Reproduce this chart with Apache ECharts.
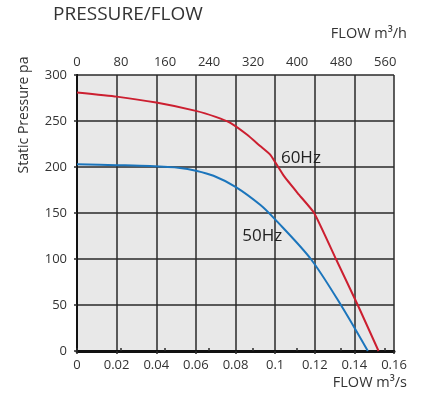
<!DOCTYPE html>
<html>
<head>
<meta charset="utf-8">
<script src="https://cdn.jsdelivr.net/npm/echarts@6/dist/echarts.min.js"></script>
<style>html,body{margin:0;padding:0;background:#fff}#c{width:424px;height:398px}</style>
</head>
<body>
<div id="c"></div>
<script>
// Data (flow in m3/s, pressure in pa)
const flow60 = [0, 0.02, 0.04, 0.06, 0.07, 0.0774, 0.0859, 0.0926, 0.0977, 0.1045, 0.112, 0.1197, 0.1307, 0.1417, 0.1522];
const pres60 = [281, 276.5, 270, 261, 254.5, 248, 235, 222.5, 213, 190, 170, 150, 100, 50, 0];
const flow50 = [0, 0.02, 0.0368, 0.052, 0.06, 0.0689, 0.08, 0.0926, 0.1, 0.118, 0.1332, 0.1468];
const pres50 = [203, 202, 201, 199, 196, 190.5, 178.5, 158.7, 143, 100, 50, 0];
const bottomTicks = [0, 0.02, 0.04, 0.06, 0.08, 0.1, 0.12, 0.14, 0.16];
const topTicks = [0, 80, 160, 240, 320, 400, 480, 560];
const yTicks = [0, 50, 100, 150, 200, 250, 300];
const seriesNames = ['60Hz', '50Hz'];
const labelPos60 = [0.113, 210];
const labelPos50 = [0.0935, 125];

const FONT = '"Open Sans", "Noto Sans", sans-serif';
const TXT = '#333';
const GRID = '#2a2a2a';

const chart = echarts.init(document.getElementById('c'), null, {renderer: 'canvas'});
chart.setOption({
  animation: false,
  backgroundColor: '#fff',
  textStyle: {fontFamily: FONT},
  grid: {left: 77, right: 30, top: 75, bottom: 47, show: true, backgroundColor: '#e8e8e8', borderWidth: 0,
         containLabel: false, outerBoundsMode: 'none'},
  graphic: [
    {type: 'text', left: 53, top: 5, style: {text: 'PRESSURE/FLOW', font: '19px ' + FONT, fill: TXT}},
    {type: 'text', right: 17, top: 26, style: {text: 'FLOW m³/h', font: '14.5px ' + FONT, fill: TXT}},
    {type: 'text', right: 17, top: 375, style: {text: 'FLOW m³/s', font: '14.5px ' + FONT, fill: TXT}},
    {type: 'text', x: 24, y: 115, rotation: Math.PI / 2,
      style: {text: 'Static Pressure pa', font: '14px ' + FONT, fill: TXT, align: 'center', verticalAlign: 'middle'}}
  ],
  xAxis: [
    {
      type: 'value', min: 0, max: 0.16, interval: 0.02, position: 'bottom',
      axisLine: {show: true, lineStyle: {color: '#111', width: 3}},
      axisTick: {show: true, length: 3, lineStyle: {color: GRID, width: 1.5}},
      axisLabel: {color: TXT, fontSize: 13, fontFamily: FONT, margin: 8,
        formatter: v => { const t = bottomTicks.find(b => Math.abs(b - v) < 1e-9); return t === undefined ? '' : String(t); }},
      splitLine: {show: true, lineStyle: {color: GRID, width: 1.5}}
    },
    {
      type: 'value', min: 0, max: 576, interval: 80, position: 'top',
      axisLine: {show: true, lineStyle: {color: '#111', width: 2}},
      axisTick: {show: true, length: 3, lineStyle: {color: GRID, width: 1.5}},
      axisLabel: {color: TXT, fontSize: 13, fontFamily: FONT, margin: 6, showMaxLabel: false,
        formatter: v => topTicks.indexOf(v) >= 0 ? String(v) : ''},
      splitLine: {show: false}
    }
  ],
  yAxis: [
    {
      type: 'value', min: 0, max: 300, interval: 50,
      axisLine: {show: true, lineStyle: {color: '#111', width: 2}},
      axisTick: {show: true, length: 3, lineStyle: {color: GRID, width: 1.5}},
      axisLabel: {color: TXT, fontSize: 13, fontFamily: FONT, margin: 10,
        formatter: v => yTicks.indexOf(v) >= 0 ? String(v) : ''},
      splitLine: {show: true, lineStyle: {color: GRID, width: 1.5}}
    },
    {
      type: 'value', min: 0, max: 300, interval: 50, position: 'right',
      axisLine: {show: true, lineStyle: {color: '#111', width: 2}},
      axisTick: {show: false}, axisLabel: {show: false}, splitLine: {show: false}
    }
  ],
  series: [
    {
      name: seriesNames[0], type: 'line', xAxisIndex: 0, yAxisIndex: 0,
      data: flow60.map((f, i) => [f, pres60[i]]),
      smooth: 0.15, showSymbol: false, lineStyle: {color: '#cc1f30', width: 2}, z: 5,
      markPoint: {symbol: 'circle', symbolSize: 0, data: [{coord: labelPos60, value: seriesNames[0]}],
        label: {show: true, formatter: seriesNames[0], color: '#222', fontSize: 17, fontFamily: FONT, position: 'inside'}}
    },
    {
      name: seriesNames[1], type: 'line', xAxisIndex: 0, yAxisIndex: 0,
      data: flow50.map((f, i) => [f, pres50[i]]),
      smooth: 0.3, showSymbol: false, lineStyle: {color: '#1b75bc', width: 2}, z: 5,
      markPoint: {symbol: 'circle', symbolSize: 0, data: [{coord: labelPos50, value: seriesNames[1]}],
        label: {show: true, formatter: seriesNames[1], color: '#222', fontSize: 17, fontFamily: FONT, position: 'inside'}}
    }
  ]
});
</script>
</body>
</html>
